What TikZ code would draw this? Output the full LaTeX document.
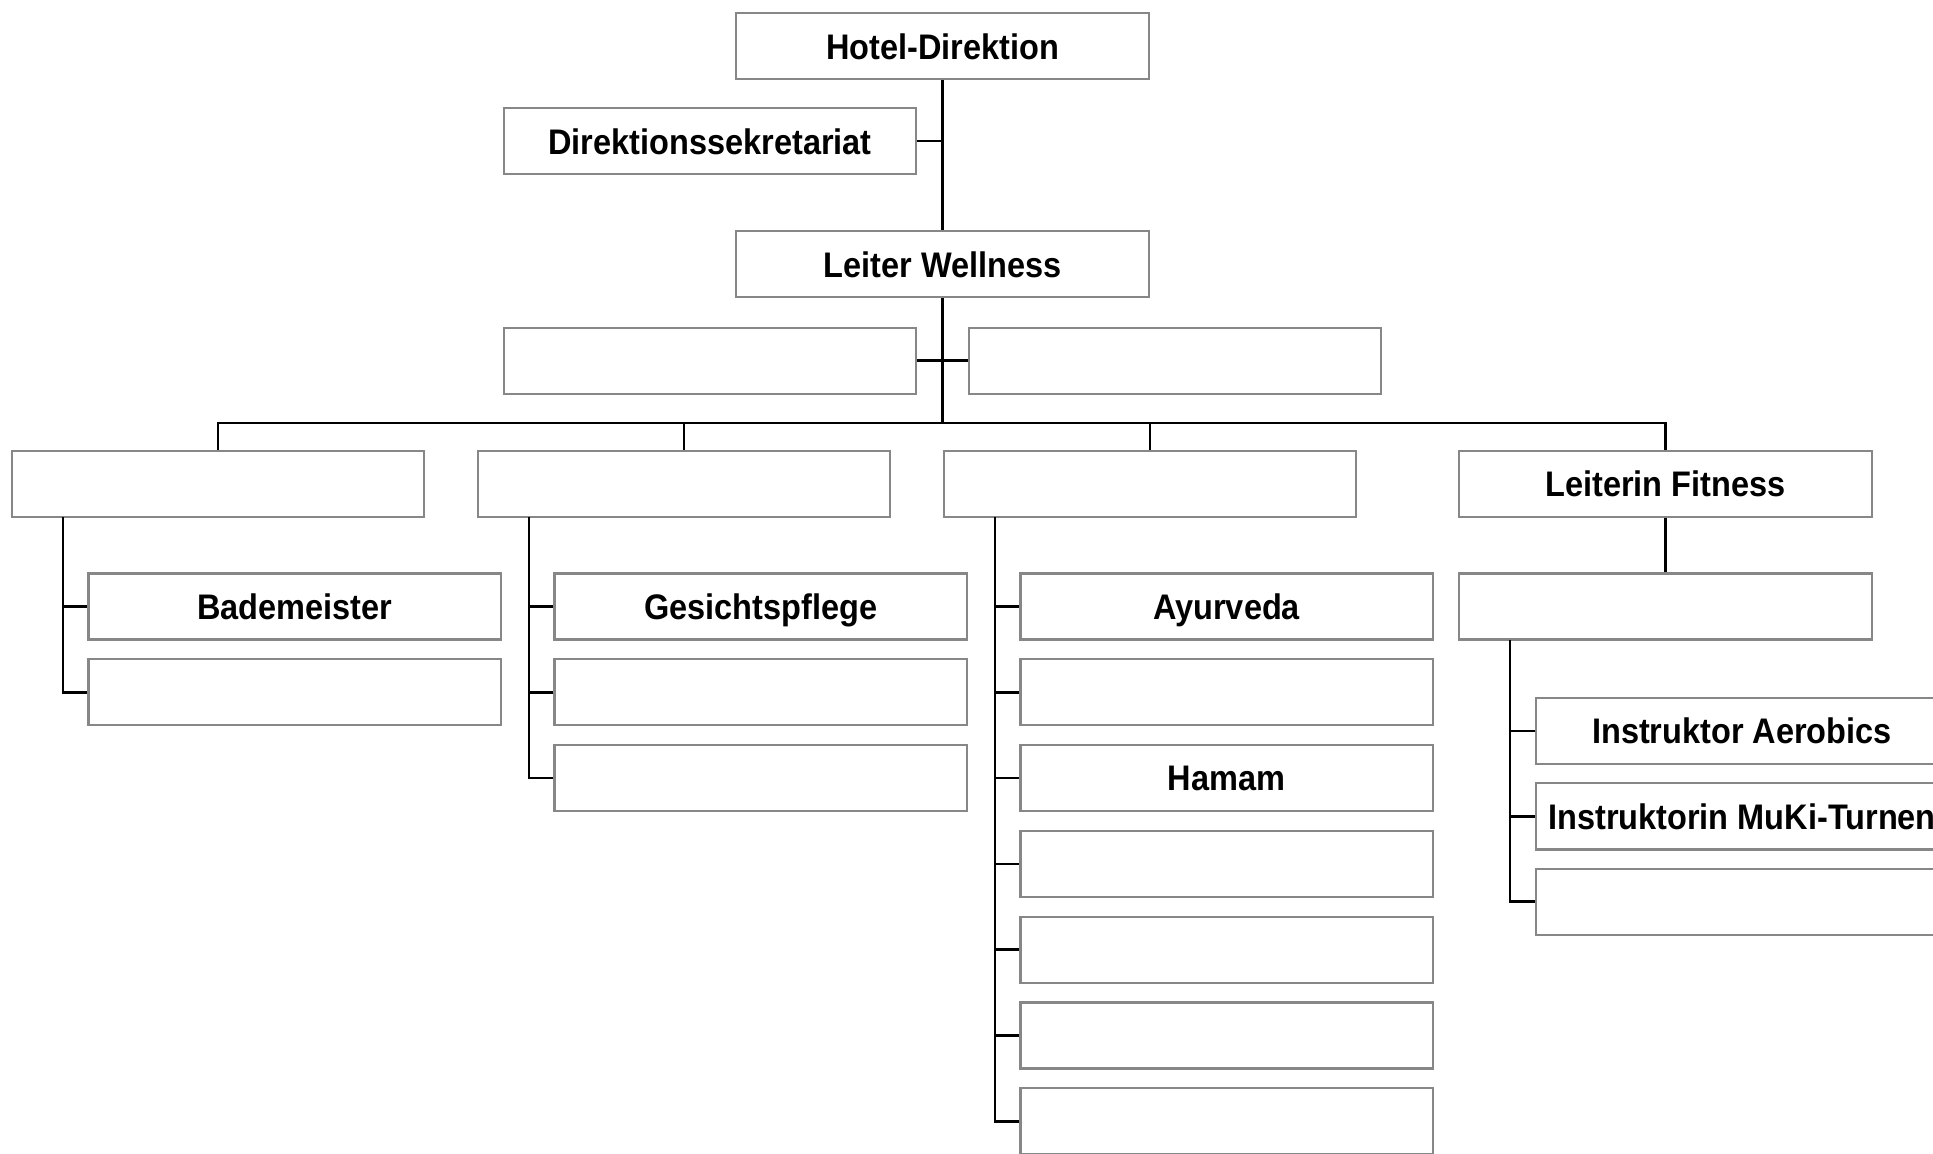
\documentclass[tikz,border=0pt]{standalone}
\usepackage{fontspec}
\newfontfamily\lab{Liberation Sans}[FakeStretch=0.915]
\begin{document}
\begin{tikzpicture}[x=0.01cm,y=-0.01cm,
  box/.style={draw=black!47,line width=0.6pt,fill=white,minimum width=4.12cm,minimum height=0.66cm,inner sep=0pt,
    text height=7.3pt,text depth=0pt,
    font=\lab\bfseries\fontsize{10.1}{12}\selectfont},
  conn/.style={draw=black,line width=0.7pt}]
\useasboundingbox (0,0) rectangle (1933,1153);
\clip (0,0) rectangle (1933,1153);
% top
\node[box] (hd) at (942.5,46.2) {Hotel-Direktion};
\node[box] (sek) at (710.1,141.2) {Direktionssekretariat};
\node[box] (lw) at (942.5,264.4) {Leiter Wellness};
\node[box] (sL) at (710.1,360.6) {};
\node[box] (sR) at (1174.9,360.6) {};
% departments
\node[box] (r1) at (218.2,483.9) {};
\node[box] (r2) at (684.2,483.9) {};
\node[box] (r3) at (1150.2,483.9) {};
\node[box] (r4) at (1665.5,483.9) {Leiterin Fitness};
% column 1
\node[box] (c11) at (294.6,606.5) {Bademeister};
\node[box] (c12) at (294.6,692.3) {};
% column 2
\node[box] (c21) at (760.6,606.5) {Gesichtspflege};
\node[box] (c22) at (760.6,692.3) {};
\node[box] (c23) at (760.6,778.1) {};
% column 3
\node[box] (c31) at (1226.6,606.5) {Ayurveda};
\node[box] (c32) at (1226.6,692.3) {};
\node[box] (c33) at (1226.6,778.1) {Hamam};
\node[box] (c34) at (1226.6,863.9) {};
\node[box] (c35) at (1226.6,949.7) {};
\node[box] (c36) at (1226.6,1035.5) {};
\node[box] (c37) at (1226.6,1121.3) {};
% fitness
\node[box] (f0) at (1665.5,606.5) {};
\node[box] (f1) at (1742,731.1) {Instruktor Aerobics};
\node[box] (f2) at (1742,816.4) {Instruktorin MuKi-Turnen};
\node[box] (f3) at (1742,901.7) {};
% coordinates
\coordinate (bus) at (942.5,422.9);
\coordinate (t1) at (62.9,516.9);
\coordinate (t2) at (528.9,516.9);
\coordinate (t3) at (994.9,516.9);
\coordinate (t4) at (1510.2,639.5);
% connectors
\draw[conn] (hd.south) -- (lw.north);
\draw[conn] (sek.east) -- (sek.east -| hd.south);
\draw[conn] (lw.south) -- (bus);
\draw[conn] (sL.east) -- (sR.west);
\draw[conn] (r1.north) |- (bus) -| (r4.north);
\draw[conn] (r2.north) -- (r2.north |- bus);
\draw[conn] (r3.north) -- (r3.north |- bus);
\draw[conn] (t1) |- (c12.west);
\draw[conn] (t1 |- c11.west) -- (c11.west);
\draw[conn] (t2) |- (c23.west);
\foreach \n in {c21,c22} \draw[conn] (t2 |- \n.west) -- (\n.west);
\draw[conn] (t3) |- (c37.west);
\foreach \n in {c31,c32,c33,c34,c35,c36} \draw[conn] (t3 |- \n.west) -- (\n.west);
\draw[conn] (r4.south) -- (f0.north);
\draw[conn] (t4) |- (f3.west);
\foreach \n in {f1,f2} \draw[conn] (t4 |- \n.west) -- (\n.west);
\end{tikzpicture}
\end{document}
